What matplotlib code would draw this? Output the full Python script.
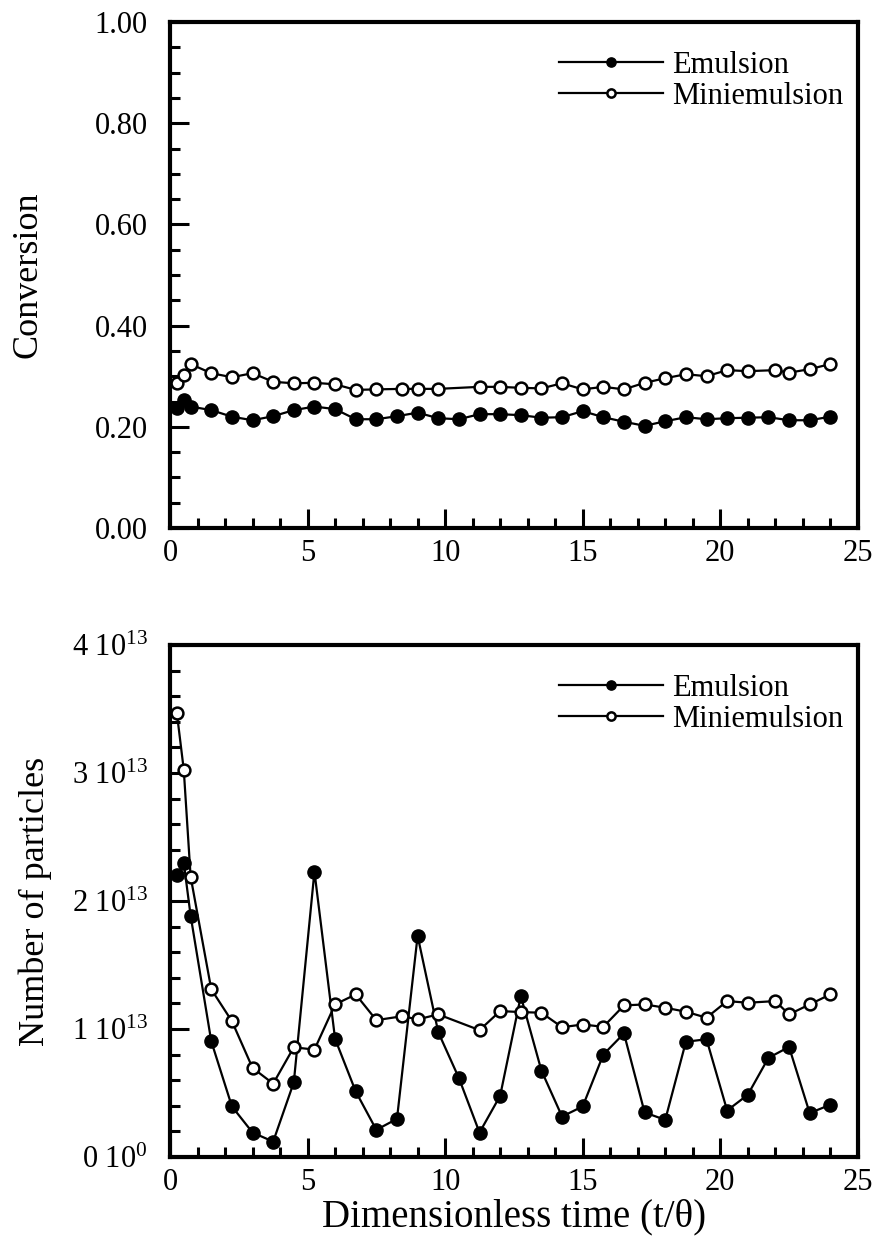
#!/usr/bin/env python3
"""
Conversion and number of particles vs dimensionless time,
emulsion vs miniemulsion.
"""

import matplotlib.pyplot as plt
from matplotlib.ticker import MultipleLocator, FixedLocator, FixedFormatter

# time points (t/theta)
t_emulsion = [0.25, 0.5, 0.75, 1.5, 2.25, 3.0, 3.75, 4.5, 5.25, 6.0, 6.75, 7.5,
              8.25, 9.0, 9.75, 10.5, 11.25, 12.0, 12.75, 13.5, 14.25, 15.0, 15.75,
              16.5, 17.25, 18.0, 18.75, 19.5, 20.25, 21.0, 21.75, 22.5, 23.25, 24.0]
t_mini = [0.25, 0.5, 0.75, 1.5, 2.25, 3.0, 3.75, 4.5, 5.25, 6.0, 6.75, 7.5,
          8.45, 9.0, 9.75, 11.25, 12.0, 12.75, 13.5, 14.25, 15.0, 15.75,
          16.5, 17.25, 18.0, 18.75, 19.5, 20.25, 21.0, 22.0, 22.5, 23.25, 24.0]

# conversion
conv_emulsion = [0.237, 0.253, 0.240, 0.233, 0.220, 0.213, 0.221, 0.233, 0.240, 0.235,
                 0.215, 0.215, 0.221, 0.228, 0.217, 0.215, 0.225, 0.225, 0.223, 0.218,
                 0.219, 0.231, 0.219, 0.210, 0.202, 0.211, 0.219, 0.215, 0.217, 0.218,
                 0.219, 0.213, 0.213, 0.220]
conv_mini = [0.287, 0.302, 0.324, 0.306, 0.298, 0.306, 0.289, 0.286, 0.287, 0.284,
             0.273, 0.274, 0.275, 0.275, 0.275, 0.279, 0.279, 0.277, 0.276, 0.286,
             0.274, 0.279, 0.274, 0.287, 0.296, 0.304, 0.300, 0.312, 0.310, 0.312,
             0.307, 0.314, 0.324]

# number of particles, in units of 1e13
npart_emulsion = [2.20, 2.30, 1.885, 0.904, 0.395, 0.191, 0.12, 0.583, 2.23, 0.923,
                  0.512, 0.212, 0.298, 1.728, 0.975, 0.617, 0.191, 0.478, 1.257, 0.675,
                  0.316, 0.395, 0.80, 0.965, 0.348, 0.29, 0.90, 0.92, 0.363, 0.486,
                  0.774, 0.86, 0.343, 0.408]
npart_mini = [3.467, 3.027, 2.19, 1.31, 1.061, 0.696, 0.573, 0.857, 0.839, 1.192,
              1.27, 1.069, 1.10, 1.075, 1.114, 0.991, 1.14, 1.132, 1.127, 1.014,
              1.035, 1.017, 1.184, 1.192, 1.166, 1.135, 1.088, 1.218, 1.205, 1.218,
              1.114, 1.192, 1.27]

npart_ticks = [0, 1, 2, 3, 4]
npart_ticklabels = ['0 10$^{0}$', '1 10$^{13}$', '2 10$^{13}$', '3 10$^{13}$', '4 10$^{13}$']

plt.rcParams['font.family'] = ['Liberation Serif', 'DejaVu Serif']
plt.rcParams['mathtext.fontset'] = 'custom'
plt.rcParams['mathtext.rm'] = 'Liberation Serif'
plt.rcParams['mathtext.it'] = 'Liberation Serif:italic'

fig = plt.figure(figsize=(8.74, 12.43), dpi=100)
ax1 = fig.add_axes([0.1945, 0.5752, 0.787, 0.4071])
ax2 = fig.add_axes([0.1945, 0.0692, 0.787, 0.4119])


def style_axes(ax):
    for side in ['left', 'right', 'top', 'bottom']:
        ax.spines[side].set_linewidth(3)
    ax.tick_params(which='both', direction='in', top=False, right=False,
                   labelsize=22, width=2.2)
    ax.tick_params(axis='y', which='both', pad=16)
    ax.tick_params(axis='x', which='both', pad=8)
    ax.tick_params(which='major', length=14)
    ax.tick_params(which='minor', length=7)
    ax.set_xlim(0, 25)
    ax.xaxis.set_major_locator(MultipleLocator(5))
    ax.xaxis.set_minor_locator(MultipleLocator(1))


def draw_series(ax, x_e, y_e, x_m, y_m):
    ax.plot(x_e, y_e, '-', color='black', lw=1.6, marker='o', ms=9.5,
            mfc='black', mec='black', label='Emulsion', zorder=3)
    ax.plot(x_m, y_m, '-', color='black', lw=1.6, marker='o', ms=8.5,
            mfc='white', mec='black', mew=1.8, label='Miniemulsion', zorder=4)
    ax.legend(loc='upper right', bbox_to_anchor=(1.01, 0.985), frameon=False,
              fontsize=22, handlelength=3.4, handletextpad=0.3, labelspacing=0.05,
              markerscale=0.7, borderaxespad=0.3)


# top: conversion
style_axes(ax1)
draw_series(ax1, t_emulsion, conv_emulsion, t_mini, conv_mini)
ax1.set_ylim(0, 1)
ax1.yaxis.set_major_locator(MultipleLocator(0.2))
ax1.yaxis.set_minor_locator(MultipleLocator(0.05))
ax1.yaxis.set_major_formatter(plt.FormatStrFormatter('%.2f'))
ax1.set_ylabel('Conversion', fontsize=26, labelpad=36)

# bottom: number of particles
style_axes(ax2)
draw_series(ax2, t_emulsion, npart_emulsion, t_mini, npart_mini)
ax2.set_ylim(0, 4)
ax2.yaxis.set_major_locator(FixedLocator(npart_ticks))
ax2.yaxis.set_major_formatter(FixedFormatter(npart_ticklabels))
ax2.yaxis.set_minor_locator(MultipleLocator(0.2))
ax2.set_ylabel('Number of particles', fontsize=26, labelpad=14)
ax2.set_xlabel('Dimensionless time (t/\u03b8)', fontsize=28, labelpad=1)

fig.savefig('out.png', dpi=100)
